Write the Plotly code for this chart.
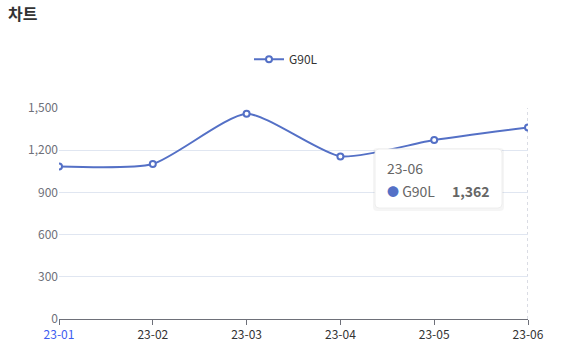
import plotly.graph_objects as go

categories = ["23-01", "23-02", "23-03", "23-04", "23-05", "23-06"]
values = [1085, 1102, 1459, 1156, 1272, 1362]
series_name = "G90L"
y_ticks = [0, 300, 600, 900, 1200, 1500]
hover_index = 5

COLOR = "#5470c6"
FONT = "Noto Sans CJK KR, Noto Sans, sans-serif"

fig = go.Figure()
fig.add_trace(go.Scatter(
    x=list(range(len(categories))), y=values, name=series_name,
    mode="lines+markers",
    line=dict(color=COLOR, width=2, shape="spline", smoothing=0.6),
    marker=dict(symbol="circle", size=6, color="white", line=dict(color=COLOR, width=2)),
    showlegend=True,
))

ticktext = [f"<span style='color:#3d5cf0'>{c}</span>" if i == 0 else c for i, c in enumerate(categories)]

fig.update_layout(
    width=572, height=357,
    margin=dict(l=59, r=44, t=108, b=38),
    paper_bgcolor="white", plot_bgcolor="white",
    font=dict(family=FONT, size=12, color="#6E7079"),
    title=dict(text="<b>차트</b>", x=0, xref="container", xanchor="left", y=1, yref="container",
               yanchor="top", pad=dict(l=8, t=9), font=dict(size=16, color="#333")),
    showlegend=True,
    legend=dict(orientation="h", x=0.5, xref="container", xanchor="center", y=0.875, yref="container",
                yanchor="top", font=dict(size=12, color="#333"), itemwidth=30),
    xaxis=dict(range=[0, len(categories) - 1], tickmode="array",
               tickvals=list(range(len(categories))), ticktext=ticktext,
               showgrid=False, showline=True, linecolor="#6E7079", linewidth=1,
               ticks="outside", ticklen=5, tickcolor="#6E7079",
               tickfont=dict(color="#333", size=12), zeroline=False),
    yaxis=dict(range=[0, 1500], tickmode="array", tickvals=y_ticks,
               ticktext=[f"{v:,}" for v in y_ticks],
               showgrid=True, gridcolor="#E0E6F1", gridwidth=1, showline=False,
               zeroline=False, ticks="", tickfont=dict(color="#6E7079", size=12)),
)

# axis pointer (dashed vertical line at hovered category)
fig.add_shape(type="line", xref="x", yref="paper", x0=hover_index, x1=hover_index, y0=0, y1=1,
              line=dict(color="#B5B9C8", width=1, dash="3px,3px"), layer="below")

# tooltip box
bx0, bx1, by0, by1 = 375, 502, 149, 208
W, H = 572, 357
pl, pr, pt, pb = 59, 44, 108, 38
pw, ph = W - pl - pr, H - pt - pb
def px(x): return (x - pl) / pw
def py(y): return 1 - (y - pt) / ph
r = 4
def rrect(x0, x1, y0, y1):
    return (f"M {px(x0+r)} {py(y0)} L {px(x1-r)} {py(y0)} Q {px(x1)} {py(y0)} {px(x1)} {py(y0+r)} "
            f"L {px(x1)} {py(y1-r)} Q {px(x1)} {py(y1)} {px(x1-r)} {py(y1)} "
            f"L {px(x0+r)} {py(y1)} Q {px(x0)} {py(y1)} {px(x0)} {py(y1-r)} "
            f"L {px(x0)} {py(y0+r)} Q {px(x0)} {py(y0)} {px(x0+r)} {py(y0)} Z")
fig.add_shape(type="path", xref="paper", yref="paper", path=rrect(bx0 - 2, bx1 + 2, by0 - 1, by1 + 3),
              fillcolor="rgba(0,0,0,0.04)", line=dict(width=0), layer="above")
fig.add_shape(type="path", xref="paper", yref="paper", path=rrect(bx0, bx1, by0, by1),
              fillcolor="white", line=dict(color="#EEEEEE", width=1), layer="above")
fig.add_annotation(xref="paper", yref="paper", x=px(385), y=py(168), xanchor="left", yanchor="middle",
                   text=categories[hover_index], showarrow=False, font=dict(size=14, color="#666"))
fig.add_annotation(xref="paper", yref="paper", x=px(385), y=py(191), xanchor="left", yanchor="middle",
                   text=f"<span style='color:{COLOR};font-size:12px'>●</span> {series_name}", showarrow=False,
                   font=dict(size=14, color="#666"))
fig.add_annotation(xref="paper", yref="paper", x=px(492), y=py(191), xanchor="right", yanchor="middle",
                   text=f"<b>{values[hover_index]:,}</b>", showarrow=False, font=dict(size=14, color="#666"))

fig.write_html("out.html", config={"displayModeBar": False},
               post_script="document.body.style.margin='0';document.body.style.padding='0';")
